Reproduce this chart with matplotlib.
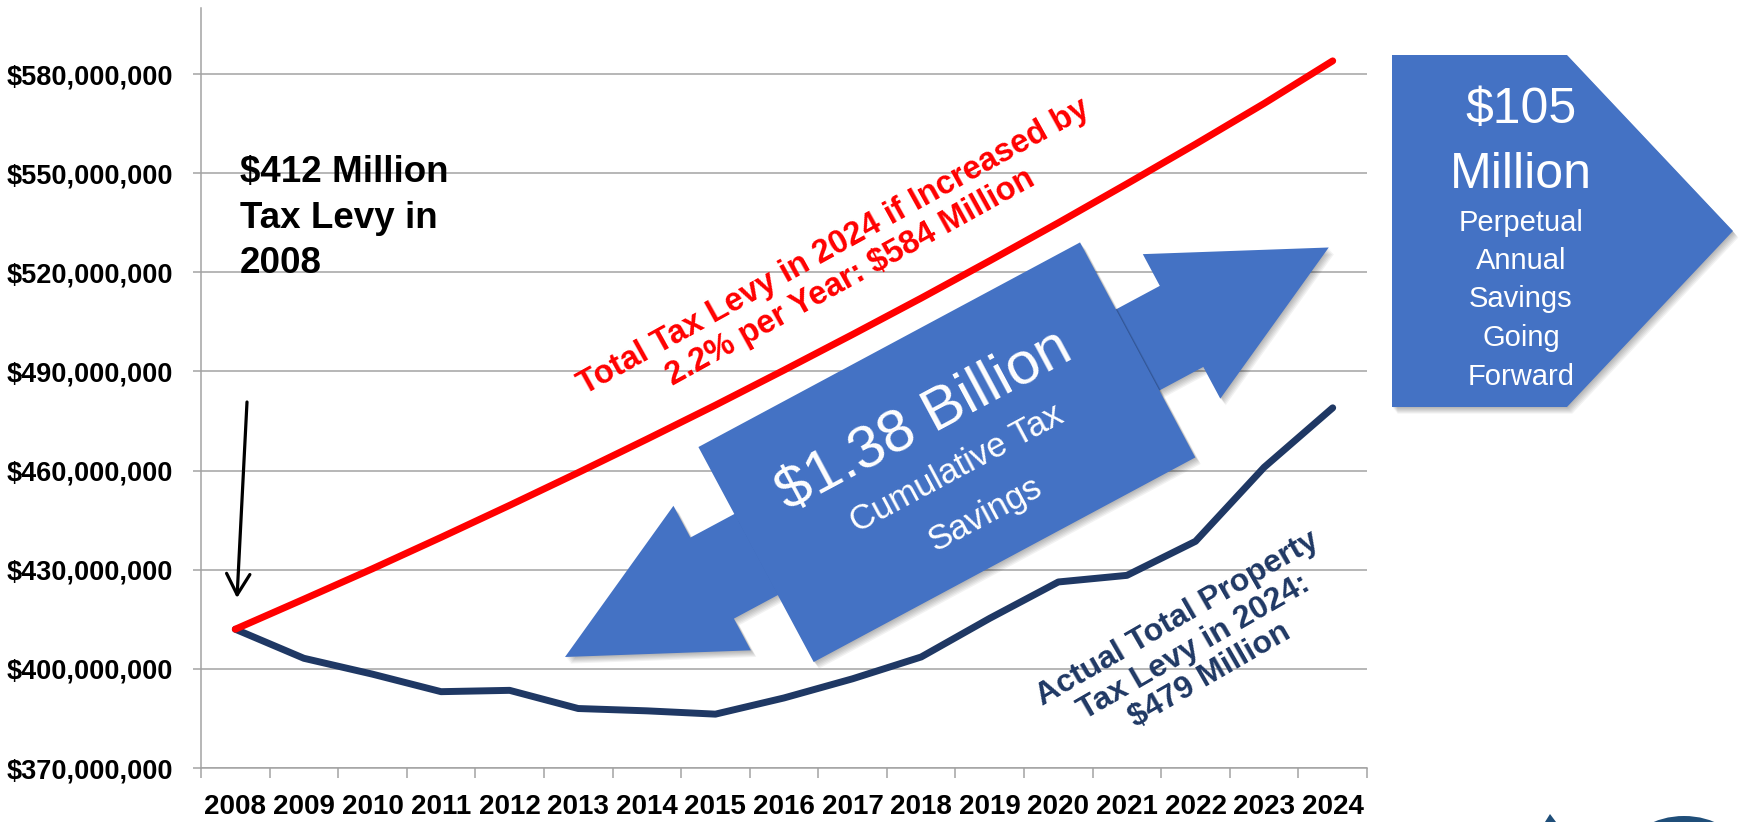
import numpy as np
import matplotlib
matplotlib.use("Agg")
import matplotlib.pyplot as plt
from matplotlib.patches import Polygon, Ellipse
from matplotlib.ticker import FuncFormatter

plt.rcParams["font.family"] = ["Liberation Sans", "DejaVu Sans"]

# ---- data (millions of dollars) ----
years = ["2008", "2009", "2010", "2011", "2012", "2013", "2014", "2015", "2016",
         "2017", "2018", "2019", "2020", "2021", "2022", "2023", "2024"]
levy_if_increased = [412.0, 421.1, 430.3, 439.8, 449.5, 459.4, 469.5, 479.8, 490.4,
                     501.2, 512.2, 523.5, 535.0, 546.8, 558.8, 571.1, 584.0]
levy_actual = [412.0, 403.2, 398.4, 393.1, 393.5, 388.0, 387.3, 386.3, 391.2,
               397.0, 403.6, 415.3, 426.3, 428.3, 438.6, 461.0, 479.0]
y_ticks = [370, 400, 430, 460, 490, 520, 550, 580]

RED = "#FF0000"
NAVY = "#1F3864"
BLUE = "#4472C4"
GRID = "#A3A3A3"

W, H = 1750, 822
fig = plt.figure(figsize=(W / 100, H / 100), dpi=100)

# ---- main chart ----
ax = fig.add_axes([201 / W, 54 / H, 1166 / W, 760 / H])
x = np.arange(len(years))
ax.plot(x, levy_actual, color=NAVY, lw=5.0, solid_capstyle="round",
        solid_joinstyle="round", zorder=3)
ax.plot(x, levy_if_increased, color=RED, lw=5.0, solid_capstyle="round",
        solid_joinstyle="round", zorder=4)

ax.set_xlim(-0.5, len(years) - 0.5)
ax.set_ylim(370, 600)
ax.set_yticks(y_ticks)
ax.yaxis.set_major_formatter(FuncFormatter(lambda v, p: f"${v * 1e6:,.0f}"))
ax.grid(axis="y", color=GRID, lw=1.1)
ax.set_axisbelow(True)
for side in ("top", "right"):
    ax.spines[side].set_visible(False)
for side in ("left", "bottom"):
    ax.spines[side].set_color(GRID)
    ax.spines[side].set_linewidth(1.1)

ax.tick_params(axis="y", length=6, width=1.1, color=GRID, pad=14, labelsize=19.5)
for lab in ax.get_yticklabels():
    lab.set_fontweight("bold")
ax.set_xticks(x)
ax.set_xticklabels(years, fontweight="bold", fontsize=20)
ax.tick_params(axis="x", which="major", length=0, pad=19)
ax.set_xticks(np.arange(-0.5, len(years), 1.0), minor=True)
ax.tick_params(axis="x", which="minor", length=7, width=1.1, color=GRID)

# ---- overlay in pixel coordinates for callouts ----
ov = fig.add_axes([0, 0, 1, 1])
ov.set_xlim(0, W)
ov.set_ylim(H, 0)
ov.axis("off")
ov.set_zorder(5)


def shaded_shape(verts, color=BLUE, z=2):
    verts = np.asarray(verts, dtype=float)
    for k in range(1, 7):
        ov.add_patch(Polygon(verts + np.array([k * 0.9, k * 1.1]), closed=True,
                             facecolor="black", edgecolor="none", alpha=0.05, zorder=z))
    ov.add_patch(Polygon(verts, closed=True, facecolor=color, edgecolor="none", zorder=z + 1))


# double-headed arrow with central label box
ang = np.deg2rad(28.2)
u = np.array([np.cos(ang), -np.sin(ang)])
nv = np.array([-np.sin(ang), -np.cos(ang)])
P0 = np.array([565.0, 657.0])
L, HL, HW, SW = 866.6, 167.0, 82.0, 46.0
RW, RH = 216.5, 122.0


def fr(s, t):
    return P0 + s * u + t * nv


arrow = [fr(0, 0), fr(HL, HW), fr(HL, SW), fr(L - HL, SW), fr(L - HL, HW), fr(L, 0),
         fr(L - HL, -HW), fr(L - HL, -SW), fr(HL, -SW), fr(HL, -HW)]
box = [fr(L / 2 - RW, RH), fr(L / 2 + RW, RH), fr(L / 2 + RW, -RH), fr(L / 2 - RW, -RH)]
shaded_shape(arrow, z=2)
shaded_shape(box, z=4)

rot = np.rad2deg(ang)
for (s, t), txt, fs in [((L / 2 - 5, 38), "$1.38 Billion", 43),
                        ((L / 2 + 1, -19), "Cumulative Tax", 25),
                        ((L / 2 + 4, -73), "Savings", 25)]:
    px, py = fr(s, t)
    ov.text(px, py, txt, color="white", fontsize=fs, rotation=rot,
            rotation_mode="anchor", ha="center", va="center", zorder=10)

# pentagon callout
penta = [(1392, 55), (1567, 55), (1733, 231), (1567, 407), (1392, 407)]
shaded_shape(penta, z=2)
cx = 1521
ov.text(cx, 123, "$105", color="white", fontsize=36, ha="center", va="baseline", zorder=10)
ov.text(cx, 188, "Million", color="white", fontsize=36, ha="center", va="baseline", zorder=10)
for yb, txt in zip([231, 269, 307, 346, 385],
                   ["Perpetual", "Annual", "Savings", "Going", "Forward"]):
    ov.text(cx, yb, txt, color="white", fontsize=21, ha="center", va="baseline", zorder=10)

# line annotations
ov.text(842, 262, "Total Tax Levy in 2024 if Increased by\n2.2% per Year: $584 Million",
        color=RED, fontsize=23.5, fontweight="bold", rotation=29, rotation_mode="anchor",
        ha="center", va="center", multialignment="center", linespacing=1.15, zorder=10)
ov.text(1194, 647, "Actual Total Property\nTax Levy in 2024:\n$479 Million",
        color=NAVY, fontsize=23, fontweight="bold", rotation=30, rotation_mode="anchor",
        ha="center", va="center", multialignment="center", linespacing=1.12, zorder=10)

ov.text(240, 273, "$412 Million\nTax Levy in\n2008", color="black", fontsize=26.5,
        fontweight="bold", ha="left", va="baseline", linespacing=1.38, zorder=10)
ov.annotate("", xy=(237, 598), xytext=(247, 402),
            arrowprops=dict(arrowstyle="->,head_length=0.75,head_width=0.42",
                            lw=2.3, color="black", mutation_scale=20,
                            shrinkA=0, shrinkB=0), zorder=10)

# partially visible emblem at the lower right
ov.add_patch(Ellipse((1684, 852), 110, 72, facecolor="#1F4E79", edgecolor="none", zorder=10))
ov.add_patch(Polygon([(1545, 822), (1550, 814), (1556, 822)], closed=True,
                     facecolor="#1F4E79", edgecolor="none", zorder=10))

fig.savefig("out.png", dpi=100)
